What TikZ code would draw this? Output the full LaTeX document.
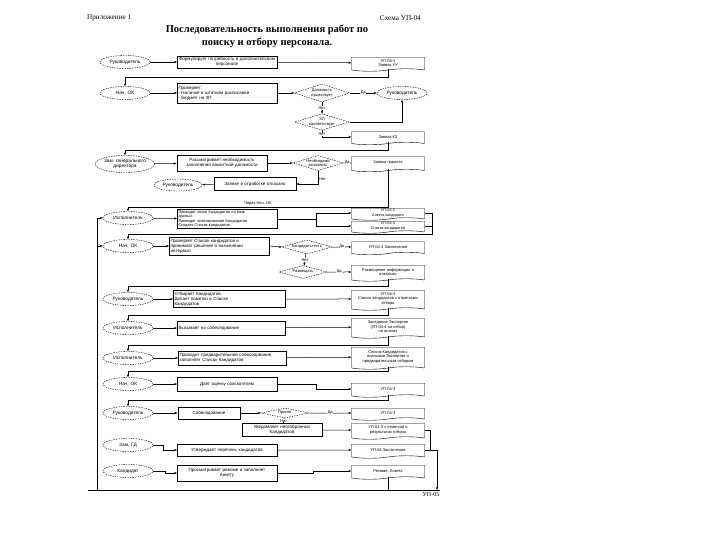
\documentclass[tikz,border=0pt]{standalone}
\usepackage{fontspec}
\setmainfont{Liberation Sans}
\newfontfamily\serifru{Liberation Serif}
\usetikzlibrary{shapes.geometric,shapes.symbols,arrows.meta}
\newcommand\boxfont{\fontsize{4.5}{5}\selectfont}
\newcommand\smallboxfont{\fontsize{3.9}{4.4}\selectfont}
\newcommand\docfont{\fontsize{4}{4.5}\selectfont}
\newcommand\ellfont{\fontsize{4.8}{5.2}\selectfont}
\newcommand\labfont{\fontsize{4}{4.5}\selectfont}
\begin{document}
\begin{tikzpicture}[x=1pt,y=-1pt,
  ell/.style={draw, dash pattern=on 1.5pt off 1pt, ellipse, fill=white, inner sep=0pt,
    minimum width=50pt, minimum height=13pt, font=\ellfont, align=center},
  box/.style={draw, rectangle, fill=white, inner sep=1.2pt, font=\boxfont},
  doc/.style={draw, tape, tape bend top=none, tape bend height=2.5pt, fill=white,
    inner sep=0.6pt, minimum width=73pt, font=\docfont, align=center},
  dia/.style={draw, dash pattern=on 1.5pt off 1pt, diamond, aspect=3.2, fill=white,
    inner sep=0pt, font=\labfont, align=center},
  lab/.style={font=\labfont, inner sep=0.4pt, fill=white},
  ln/.style={line width=0.5pt},
  arr/.style={ln, -{Stealth[length=3pt,width=2.2pt]}},
  bus/.style={line width=0.9pt, -{Stealth[length=3pt,width=2.2pt]}}
]
\useasboundingbox[fill=white] (0,0) rectangle (720,540);

% header
\node[anchor=west, font=\serifru\fontsize{7.2}{8}\selectfont, inner sep=0pt] (hl) at (87,18) {Приложение 1};
\node[anchor=east, font=\serifru\fontsize{7.2}{8}\selectfont, inner sep=0pt] (hr) at (421,18) {Схема УП-04};
\node[font=\serifru\bfseries\fontsize{10.5}{13}\selectfont, align=center, inner sep=0pt] (title) at (267,36.5)
  {Последовательность выполнения работ по\\поиску и отбору персонала.};

% ---------- nodes ----------
% row 1
\node[ell] (e1) at (125,62) {Руководитель};
\node[box, text width=97pt, minimum height=11pt, align=center] (b1) at (227,62)
  {Формулирует потребность в дополнительном\\персонале};
\node[doc, minimum height=14pt] (d1) at (388,63) {УП-04-1\\Заявка УУ};
% row 2
\node[ell] (e2) at (125,93) {Нач. ОК};
\node[box, text width=97pt, minimum height=20pt, align=left] (b2) at (227,93)
  {Проверяет:\\- Наличие в штатном расписании\\- Бюджет на ЗП};
\node[dia, minimum width=55pt, minimum height=18pt] (q1) at (322,93) {Должность\\существует};
\node[ell] (e3) at (402,93) {Руководитель};
\node[dia, minimum width=55pt, minimum height=16pt] (q2) at (322,122) {ЗП\\соответствует};
\node[doc, minimum height=13pt] (d2) at (388,137) {Заявка КЗ};
% row 3
\node[ell, minimum width=56pt, minimum height=17pt] (e4) at (125,164) {Зам. генерального\\директора};
\node[box, text width=88pt, minimum height=16pt, align=center] (b3) at (222,163)
  {Рассматривает необходимость\\заполнения вакантной должности};
\node[dia, minimum width=50pt, minimum height=15pt] (q3) at (318,163) {Необходимо\\заполнить};
\node[doc, minimum height=15pt] (d3) at (388,163) {Заявка принята};
\node[ell, minimum width=48pt, minimum height=12pt] (e5) at (178,185) {Руководитель};
\node[box, text width=80pt, minimum height=13pt, align=center] (b4) at (255,184) {Заявке в отработке отказано};
\node[lab, anchor=south] (via) at (258,206) {Через Нач. ОК};
% row 4
\node[ell] (e6) at (128,218) {Исполнитель};
\node[box, text width=97pt, minimum height=19pt, align=left, font=\smallboxfont] (b5) at (227,219)
  {Проводит поиск Кандидатов по базе\\данных.\\Проводит анкетирование Кандидатов\\Создает Список кандидатов};
\node[doc, minimum height=12pt, font=\fontsize{3.8}{4.2}\selectfont] (d4a) at (388,213) {УП-04-2\\Анкета кандидата};
\node[doc, minimum height=12pt, font=\fontsize{3.8}{4.2}\selectfont] (d4b) at (388,226) {УП-04-3\\Список кандидатов};
% row 5
\node[ell] (e7) at (128,246) {Нач. ОК};
\node[box, text width=97pt, minimum height=18pt, align=left] (b6) at (219,246)
  {Проверяет Список кандидатов и\\принимает решение о назначении\\интервью};
\node[dia, minimum width=50pt, minimum height=14pt] (q4) at (307,247) {Кандидаты есть};
\node[doc, minimum height=13pt] (d5) at (388,247) {УП-04-4 Заключение};
\node[dia, minimum width=48pt, minimum height=13pt] (q5) at (303,272) {Размещать};
\node[doc, minimum height=16pt] (d6) at (388,272) {Размещение информации о\\вакансии};
% row 6
\node[ell] (e8) at (128,299) {Руководитель};
\node[box, text width=109pt, minimum height=17pt, align=left] (b7) at (229,299)
  {Отбирает Кандидатов.\\Делает пометки в Списке\\Кандидатов};
\node[doc, minimum height=20pt] (d7) at (388,299) {УП-04-4\\Список кандидатов с отметками\\отбора};
% row 7
\node[ell] (e9) at (128,328) {Исполнитель};
\node[box, text width=105pt, minimum height=14pt, align=left] (b8) at (231,328) {Вызывает на собеседование};
\node[doc, minimum height=20pt] (d8) at (388,327) {Заседание Экспертов\\(УП-04-4 на отбор)\\на анализ};
% row 8
\node[ell] (e10) at (128,358) {Исполнитель};
\node[box, text width=105pt, minimum height=14pt, align=left] (b9) at (232,358)
  {Проводит предварительное собеседование,\\заполняет Список Кандидатов};
\node[doc, minimum height=22pt] (d9) at (388,357) {Список Кандидатов с\\оценками Экспертов и\\предварительным отбором};
% row 9
\node[ell] (e11) at (128,384) {Нач. ОК};
\node[box, text width=97pt, minimum height=14pt, align=center] (b10) at (227,384) {Дает оценку соискателям};
\node[doc, minimum height=14pt] (d10) at (388,389) {УП-04-3};
% row 10
\node[ell] (e12) at (128,413) {Руководитель};
\node[box, text width=60pt, minimum height=12pt, align=center] (b11) at (209,413) {Собеседование};
\node[dia, minimum width=48pt, minimum height=10pt] (q6) at (285,413) {Принят};
\node[doc, minimum height=12pt] (d11) at (388,413) {УП-04-3};
\node[box, text width=78pt, minimum height=13pt, align=center] (b12) at (282,430) {Уведомляет неотобранных\\Кандидатов};
\node[doc, minimum height=16pt] (d12) at (388,430) {УП-04-3 с отметкой о\\результатах отбора};
% row 11
\node[ell] (e13) at (128,445) {Зам. ГД};
\node[box, text width=97pt, minimum height=12pt, align=center] (b13) at (227,450) {Утверждает перечень кандидатов};
\node[doc, minimum height=14pt] (d13) at (388,450) {УП-04 Заключение};
% row 12
\node[ell] (e14) at (128,471) {Кандидат};
\node[box, text width=97pt, minimum height=16pt, align=center] (b14) at (227,473) {Просматривает резюме и заполняет\\Анкету};
\node[doc, minimum height=14pt] (d14) at (388,471) {Резюме, Анкета};
\node[anchor=north, font=\serifru\fontsize{6}{7}\selectfont, inner sep=0pt] (up5) at (431,492) {УП-05};

% ---------- coordinates ----------
\coordinate (c1) at (388,77);
\coordinate (c2) at (388,150);
\coordinate (c3) at (388,207);
\coordinate (j4) at (316,219);
\coordinate (r4) at (432,226);
\coordinate (c4) at (432,234);
\coordinate (c5) at (388,286);
\coordinate (c6) at (388,315);
\coordinate (c7) at (388,345);
\coordinate (c8) at (388,371);
\coordinate (j9) at (316,384);
\coordinate (c9) at (388,400);
\coordinate (j11) at (163,445);
\coordinate (j12a) at (165,471);
\coordinate (j12) at (313,473);
\coordinate (L1) at (97,218);
\coordinate (L2) at (97,246);
\coordinate (L3) at (97,490);
\coordinate (B1) at (88,490);
\coordinate (B2) at (440,490);
\coordinate (c14) at (388,490);
\coordinate (R1) at (430,450);
\coordinate (R2) at (437,450);
\coordinate (R3) at (437,490);

% ---------- connectors ----------
% row 1
\draw[arr] (e1) -- (b1);
\draw[arr] (b1) -- (d1);
\draw[bus] (d1.south) -- (c1) -| (e2.north);
% row 2
\draw[arr] (e2) -- (b2);
\draw[arr] (b2) -- (q1);
\draw[arr] (q1) -- node[lab]{Да} (e3);
\draw[arr] (q1) -- node[lab]{Нет} (q2);
\draw[arr] (q2.east) -| (e3.south);
\draw[arr] (q2.south) |- node[lab, pos=0.3]{Нет} (d2.west);
\draw[bus] (d2.south) -- (c2) -| (e4.north);
% row 3
\draw[arr] (e4) -- (b3);
\draw[arr] (b3) -- (q3);
\draw[arr] (q3) -- node[lab]{Да} (d3);
\draw[arr] (q3.south) |- node[lab, pos=0.3, right=0.5pt, fill=none]{Нет} (b4.east);
\draw[arr] (b4) -- (e5);
\draw[bus] (d3.south) -- (c3) -| (e6.north);
% left loop
\draw[ln] (L1) -- (L3);
\draw[arr] (L1) -- (e6.west);
\draw[arr] (L2) -- (e7.west);
% row 4
\draw[arr] (e6) -- (b5);
\draw[ln] (b5.east) -- (j4);
\draw[arr] (j4) |- (d4a.west);
\draw[arr] (j4) |- (d4b.west);
\draw[ln] (d4a.east) -| (r4);
\draw[ln] (d4b.east) -- (r4);
\draw[bus] (r4) -- (c4) -| (e7.north);
% row 5
\draw[arr] (e7) -- (b6);
\draw[arr] (b6.east) -- (q4.west);
\draw[arr] (q4) -- node[lab]{Да} (d5);
\draw[arr] (q4) -- node[lab]{Нет} (q5);
\draw[arr] (q5) -- node[lab]{Да} (d6);
\draw[bus] (d6.south) -- (c5) -| (e8.north);
% row 6
\draw[arr] (e8) -- (b7);
\draw[arr] (b7) -- (d7);
\draw[bus] (d7.south) -- (c6) -| (e9.north);
% row 7
\draw[arr] (e9) -- (b8);
\draw[arr] (b8) -- (d8);
\draw[bus] (d8.south) -- (c7) -| (e10.north);
% row 8
\draw[arr] (e10) -- (b9);
\draw[arr] (b9) -- (d9);
\draw[bus] (d9.south) -- (c8) -| (e11.north);
% row 9
\draw[arr] (e11) -- (b10);
\draw[arr] (b10.east) -- (j9) |- (d10.west);
\draw[bus] (d10.south) -- (c9) -| (e12.north);
% row 10
\draw[arr] (e12) -- (b11);
\draw[arr] (b11) -- (q6);
\draw[arr] (q6) -- node[lab]{Да} (d11);
\draw[arr] (q6) -- node[lab]{Нет} (b12);
\draw[arr] (b12) -- (d12);
% row 11
\draw[arr] (e13.east) -- (j11) |- (b13.west);
\draw[arr] (b13) -- (d13);
% row 12
\draw[arr] (e14.east) -- (j12a) |- (b14.west);
\draw[arr] (b14.east) -- (j12) |- (d14.west);
% bottom
\draw[ln] (B1) -- (B2);
\draw[ln] (d14.south) -- (c14);
\draw[ln] (d12.east) -| (R1);
\draw[ln] (d13.east) -- (R2);
\draw[arr] (R2) -- (R3);
\end{tikzpicture}
\end{document}
